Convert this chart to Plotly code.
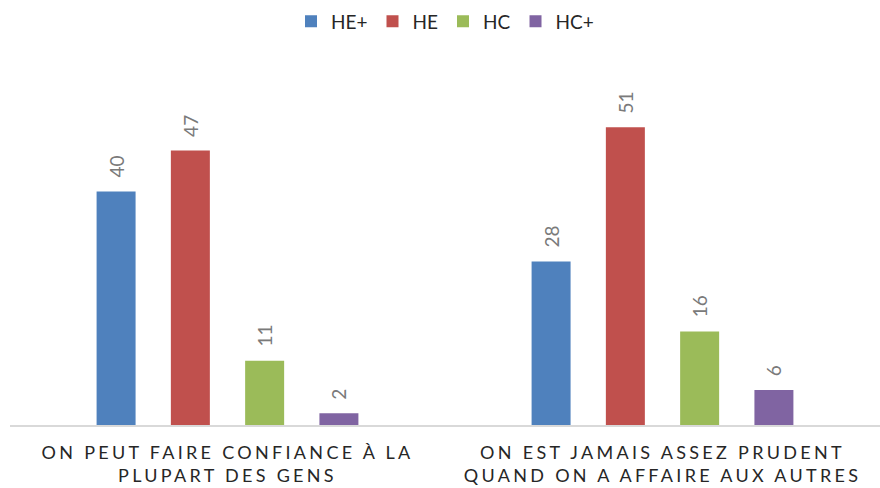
import plotly.graph_objects as go

categories = ["ON PEUT FAIRE CONFIANCE À LA<br>PLUPART DES GENS",
              "ON EST JAMAIS ASSEZ PRUDENT<br>QUAND ON A AFFAIRE AUX AUTRES"]
series_names = ["HE+", "HE", "HC", "HC+"]
he_plus = [40, 28]
he = [47, 51]
hc = [11, 16]
hc_plus = [2, 6]
series_values = [he_plus, he, hc, hc_plus]
colors = ["#4F81BD", "#C0504D", "#9BBB59", "#8064A2"]

BARGAP = 0.317
PLOT_W = 870

fig = go.Figure()
for name, vals, col in zip(series_names, series_values, colors):
    fig.add_trace(go.Bar(name=name, x=categories, y=vals, marker_color=col,
                         marker_line_width=0))

# data labels as rotated annotations above each bar
cat_px = PLOT_W / len(categories)
pitch = cat_px * (1 - BARGAP) / len(series_names)
for i, vals in enumerate(series_values):
    shift = (i - (len(series_names) - 1) / 2) * pitch
    for c, v in zip(categories, vals):
        fig.add_annotation(x=c, y=v, text=str(v), showarrow=False, textangle=-90,
                           xanchor="center", yanchor="bottom", xshift=shift, yshift=12,
                           font=dict(family="Lato", size=19, color="#7a7a7a"))

fig.update_layout(
    width=880, height=488,
    margin=dict(l=10, r=0, t=60, b=63),
    barmode="group", bargap=BARGAP, bargroupgap=0.475,
    plot_bgcolor="white", paper_bgcolor="white",
    font=dict(family="Lato", color="#333333"),
    legend=dict(orientation="h", x=0.5, xanchor="center", y=0.995, yanchor="top",
                yref="container", font=dict(size=19, color="#262626"),
                traceorder="normal", itemwidth=30),
    showlegend=True,
)
fig.update_xaxes(showline=True, linecolor="#D9D9D9", linewidth=2, ticks="",
                 tickfont=dict(family="Lato", size=18, color="#262626"),
                 ticklabelstandoff=10, showgrid=False)
fig.update_yaxes(visible=False, range=[0, 62.5], showgrid=False, zeroline=False)

post = """
document.body.style.margin='0';
document.body.style.padding='0';
var s=document.createElement('style');
s.innerHTML='.xtick text{letter-spacing:3.3px;}';
document.head.appendChild(s);
"""
fig.write_html("out.html", post_script=post, config={"displayModeBar": False})
